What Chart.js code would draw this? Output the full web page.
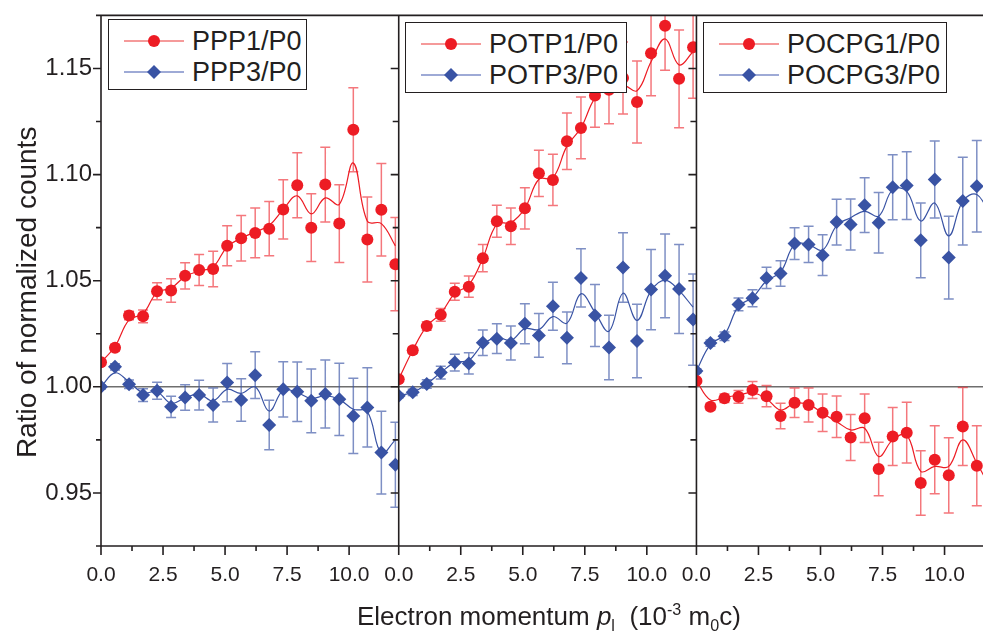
<!DOCTYPE html>
<html>
<head>
<meta charset="utf-8">
<title>Ratio of normalized counts</title>
<script src="https://cdn.jsdelivr.net/npm/chart.js@4.4.1/dist/chart.umd.min.js"></script>
<style>
  body { margin: 0; background: #fff; }
  #wrap { position: relative; width: 983px; height: 631px; font-family: "Liberation Sans", Arial, sans-serif; color: #231f20; }
  .legend { position: absolute; background: #fff; border: 1.5px solid #231f20; box-sizing: border-box; height: 71px; }
  .row { position: absolute; left: 0; height: 30px; display: flex; align-items: center; font-size: 27px; white-space: nowrap; }
  .row svg { margin: 0 8px 0 15px; }
  #xtitle { position: absolute; left: 357px; top: 603px; font-size: 26px; line-height: 26px; white-space: nowrap; }
  #xtitle sub, #xtitle sup { font-size: 62%; line-height: 0; }
</style>
</head>
<body>
<div id="wrap">
  <canvas id="chart" width="983" height="631"></canvas>

  <div class="legend" style="left:108px; top:19px; width:199px;">
    <div class="row" style="top:6px;"><svg width="60" height="16"><line x1="0" y1="8" x2="60" y2="8" stroke="#f59a9a" stroke-width="2"/><circle cx="30" cy="8" r="6" fill="#ed1c24"/></svg>PPP1/P0</div>
    <div class="row" style="top:37px;"><svg width="60" height="16"><line x1="0" y1="8" x2="60" y2="8" stroke="#9eaad6" stroke-width="2"/><polygon points="30,1 37,8 30,15 23,8" fill="#3953a4"/></svg>PPP3/P0</div>
  </div>
  <div class="legend" style="left:405px; top:22px; width:222px;">
    <div class="row" style="top:6px;"><svg width="60" height="16"><line x1="0" y1="8" x2="60" y2="8" stroke="#f59a9a" stroke-width="2"/><circle cx="30" cy="8" r="6" fill="#ed1c24"/></svg>POTP1/P0</div>
    <div class="row" style="top:37px;"><svg width="60" height="16"><line x1="0" y1="8" x2="60" y2="8" stroke="#9eaad6" stroke-width="2"/><polygon points="30,1 37,8 30,15 23,8" fill="#3953a4"/></svg>POTP3/P0</div>
  </div>
  <div class="legend" style="left:703px; top:22px; width:244px;">
    <div class="row" style="top:6px;"><svg width="60" height="16"><line x1="0" y1="8" x2="60" y2="8" stroke="#f59a9a" stroke-width="2"/><circle cx="30" cy="8" r="6" fill="#ed1c24"/></svg>POCPG1/P0</div>
    <div class="row" style="top:37px;"><svg width="60" height="16"><line x1="0" y1="8" x2="60" y2="8" stroke="#9eaad6" stroke-width="2"/><polygon points="30,1 37,8 30,15 23,8" fill="#3953a4"/></svg>POCPG3/P0</div>
  </div>

  <div id="xtitle">Electron momentum <i>p</i><sub>l</sub>&nbsp; (10<sup>-3</sup> m<sub>0</sub>c)</div>
</div>

<script>
// momentum bins, same for every panel (10^-3 m0c)
const xPos = [0, 0.565, 1.13, 1.695, 2.26, 2.825, 3.39, 3.955, 4.52, 5.085, 5.65,
              6.215, 6.78, 7.345, 7.91, 8.475, 9.04, 9.605, 10.17, 10.735, 11.3, 11.865];

// panel 1
const ppp1    = [1.0116, 1.0184, 1.0336, 1.0332, 1.0450, 1.0454, 1.0523, 1.0550, 1.0555, 1.0665, 1.0700,
                 1.0725, 1.0745, 1.0836, 1.0950, 1.0750, 1.0953, 1.0769, 1.1211, 1.0694, 1.0834, 1.0578];
const ppp1Err = [0.001, 0.0015, 0.002, 0.003, 0.004, 0.0055, 0.0062, 0.0073, 0.0084, 0.0094, 0.0107,
                 0.0117, 0.0128, 0.014, 0.0153, 0.016, 0.0176, 0.0183, 0.0198, 0.020, 0.0218, 0.022];
const ppp1Fit = [1.0116, 1.0190, 1.0315, 1.0345, 1.0445, 1.0465, 1.0520, 1.0545, 1.0565, 1.0660, 1.0700,
                 1.0730, 1.0760, 1.0836, 1.0900, 1.0815, 1.0890, 1.0860, 1.1054, 1.0780, 1.0769, 1.0664];
const ppp3    = [1.0000, 1.0094, 1.0012, 0.9961, 0.9981, 0.9906, 0.9950, 0.9961, 0.9914, 1.0020, 0.9938,
                 1.0055, 0.9820, 0.9988, 0.9977, 0.9934, 0.9966, 0.9941, 0.9863, 0.9903, 0.9690, 0.9633];
const ppp3Err = [0.001, 0.0015, 0.002, 0.003, 0.004, 0.005, 0.006, 0.007, 0.008, 0.009, 0.010,
                 0.011, 0.0117, 0.013, 0.014, 0.015, 0.016, 0.017, 0.0177, 0.0187, 0.0195, 0.020];
const ppp3Fit = [1.0000, 1.0066, 1.0023, 0.9972, 0.9977, 0.9922, 0.9948, 0.9966, 0.9934, 0.9988, 0.9969,
                 1.0000, 0.9886, 0.9984, 0.9973, 0.9945, 0.9958, 0.9941, 0.9894, 0.9883, 0.9688, 0.9750];

// panel 2
const potp1    = [1.0036, 1.0172, 1.0286, 1.0339, 1.0448, 1.0472, 1.0606, 1.0780, 1.0756, 1.0841, 1.1006,
                  1.0975, 1.1157, 1.1220, 1.1373, 1.1400, 1.1455, 1.1342, 1.1572, 1.1701, 1.1451, 1.1600];
const potp1Err = [0.001, 0.0015, 0.002, 0.003, 0.004, 0.005, 0.0064, 0.0075, 0.0086, 0.0097, 0.0109,
                  0.0121, 0.0133, 0.0146, 0.015, 0.016, 0.017, 0.0193, 0.020, 0.021, 0.023, 0.024];
const potp1Fit = [1.0036, 1.0172, 1.0286, 1.0345, 1.0440, 1.0480, 1.0606, 1.0767, 1.0774, 1.0841, 1.0978,
                  1.0985, 1.1134, 1.1220, 1.1360, 1.1410, 1.1423, 1.1395, 1.1532, 1.1639, 1.1517, 1.1579];
const potp3    = [0.9958, 0.9974, 1.0013, 1.0067, 1.0114, 1.0110, 1.0208, 1.0227, 1.0206, 1.0297, 1.0242,
                  1.0380, 1.0231, 1.0513, 1.0336, 1.0185, 1.0562, 1.0216, 1.0458, 1.0523, 1.0461, 1.0317];
const potp3Err = [0.001, 0.0015, 0.002, 0.003, 0.004, 0.005, 0.006, 0.007, 0.008, 0.0094, 0.0103,
                  0.0113, 0.0122, 0.0137, 0.0146, 0.0152, 0.0164, 0.0173, 0.0189, 0.0197, 0.021, 0.0215];
const potp3Fit = [0.9958, 0.9974, 1.0013, 1.0067, 1.0114, 1.0125, 1.0200, 1.0233, 1.0219, 1.0274, 1.0270,
                  1.0331, 1.0300, 1.0438, 1.0351, 1.0262, 1.0441, 1.0313, 1.0453, 1.0503, 1.0453, 1.0375];

// panel 3 (last bin falls outside the plotted range)
const pocpg1    = [1.0028, 0.9906, 0.9946, 0.9953, 0.9985, 0.9956, 0.9863, 0.9925, 0.9914, 0.9878, 0.9859,
                   0.9761, 0.9852, 0.9613, 0.9766, 0.9784, 0.9547, 0.9656, 0.9583, 0.9813, 0.9628];
const pocpg1Err = [0.001, 0.0015, 0.002, 0.003, 0.004, 0.005, 0.006, 0.007, 0.008, 0.0088, 0.0098,
                   0.0108, 0.0114, 0.0126, 0.0137, 0.0143, 0.0152, 0.016, 0.0177, 0.0184, 0.0188];
const pocpg1Fit = [1.0028, 0.9938, 0.9950, 0.9961, 0.9972, 0.9944, 0.9891, 0.9922, 0.9917, 0.9875, 0.9836,
                   0.9797, 0.9805, 0.9672, 0.9750, 0.9773, 0.9602, 0.9625, 0.9625, 0.9750, 0.9641, 0.9520];
const pocpg3    = [1.0075, 1.0206, 1.0238, 1.0388, 1.0417, 1.0513, 1.0534, 1.0675, 1.0671, 1.0620, 1.0776,
                   1.0765, 1.0856, 1.0773, 1.0940, 1.0948, 1.0690, 1.0977, 1.0609, 1.0875, 1.0945];
const pocpg3Err = [0.001, 0.0015, 0.002, 0.003, 0.004, 0.005, 0.006, 0.0075, 0.0085, 0.0096, 0.0108,
                   0.012, 0.0129, 0.0143, 0.0153, 0.016, 0.0176, 0.0181, 0.0195, 0.0207, 0.0215];
const pocpg3Fit = [1.0075, 1.0200, 1.0245, 1.0380, 1.0420, 1.0500, 1.0540, 1.0670, 1.0670, 1.0644, 1.0759,
                   1.0797, 1.0827, 1.0804, 1.0929, 1.0921, 1.0781, 1.0866, 1.0711, 1.0875, 1.0906, 1.0800];

const RED = '#ed1c24';
const BLUE = '#3953a4';
const RED_ERR = 'rgba(237, 28, 36, 0.6)';
const BLUE_ERR = 'rgba(57, 83, 164, 0.65)';
const TXT = '#231f20';
const FONT = "'Liberation Sans', Arial, sans-serif";

function isMajor(v, step) {
    return Math.abs(v / step - Math.round(v / step)) < 1e-6;
}

function pts(vals) {
    return vals.map((y, i) => ({ x: xPos[i], y: y }));
}

function markers(axis, vals, errs, color, errColor, style, radius) {
    return {
        xAxisID: axis, data: pts(vals), errorBars: errs, errorColor: errColor,
        showLine: false, pointStyle: style, pointRadius: radius, pointHoverRadius: radius,
        pointBackgroundColor: color, pointBorderWidth: 0, order: 1
    };
}

function fitLine(axis, vals, color) {
    return {
        xAxisID: axis, data: pts(vals), showLine: true, borderColor: color, borderWidth: 1.2,
        pointRadius: 0, tension: 0.4, fill: false, order: 2
    };
}

function xAxis(max) {
    return {
        type: 'linear', position: 'bottom', stack: 'panels', stackWeight: max,
        min: 0, max: max,
        grid: { drawOnChartArea: false, drawTicks: true, tickLength: 10, tickColor: 'rgba(0,0,0,0)' },
        border: { display: false },
        ticks: {
            stepSize: 1.25, autoSkip: false, maxRotation: 0, padding: 7, color: TXT,
            font: { family: FONT, size: 21 },
            callback: v => isMajor(v, 2.5) ? v.toFixed(1) : ''
        },
        // fixed height, and no extra side padding so the panels fill the width
        afterFit: s => { s.height = 85; s.paddingLeft = 0; s.paddingRight = 0; }
    };
}

// Clip every dataset to its own panel and draw its error bars underneath
const panelClip = {
    id: 'panelClip',
    beforeDatasetDraw(chart, args) {
        const { ctx, chartArea } = chart;
        const xs = args.meta.xScale;
        const ys = args.meta.yScale;
        ctx.save();
        ctx.beginPath();
        ctx.rect(xs.left, chartArea.top, xs.right - xs.left, chartArea.bottom - chartArea.top);
        ctx.clip();
        const ds = chart.data.datasets[args.index];
        if (!ds.errorBars) return;
        ctx.strokeStyle = ds.errorColor;
        ctx.lineWidth = 1.5;
        ctx.beginPath();
        ds.data.forEach((p, i) => {
            const e = ds.errorBars[i];
            const x = xs.getPixelForValue(p.x);
            const y1 = ys.getPixelForValue(p.y - e);
            const y2 = ys.getPixelForValue(p.y + e);
            ctx.moveTo(x, y1); ctx.lineTo(x, y2);
            ctx.moveTo(x - 5, y1); ctx.lineTo(x + 5, y1);
            ctx.moveTo(x - 5, y2); ctx.lineTo(x + 5, y2);
        });
        ctx.stroke();
    },
    afterDatasetDraw(chart) {
        chart.ctx.restore();
    }
};

// Panel frames and tick marks (major long, minor short)
const frame = {
    id: 'frame',
    afterDatasetsDraw(chart) {
        const { ctx, chartArea: a, scales } = chart;
        const panels = ['x1', 'x2', 'x3'].map(id => scales[id]);
        ctx.save();
        ctx.strokeStyle = TXT;
        ctx.lineWidth = 1.6;
        ctx.beginPath();
        ctx.moveTo(a.left, a.top); ctx.lineTo(a.right, a.top);
        ctx.moveTo(a.left, a.bottom); ctx.lineTo(a.right, a.bottom);
        panels.forEach(s => { ctx.moveTo(s.left, a.top); ctx.lineTo(s.left, a.bottom); });

        scales.y.ticks.forEach(t => {
            const py = scales.y.getPixelForValue(t.value);
            const major = isMajor(t.value, 0.05);
            ctx.moveTo(a.left, py); ctx.lineTo(a.left - (major ? 8 : 5), py);
            panels.slice(1).forEach(s => { ctx.moveTo(s.left, py); ctx.lineTo(s.left - (major ? 8 : 6), py); });
        });

        panels.forEach(s => {
            s.ticks.forEach(t => {
                if (!isMajor(t.value, 1.25)) return;
                const px = s.getPixelForValue(t.value);
                ctx.moveTo(px, a.bottom); ctx.lineTo(px, a.bottom + (isMajor(t.value, 2.5) ? 9 : 5));
            });
        });
        ctx.stroke();
        ctx.restore();
    }
};

const ctx = document.getElementById('chart');
new Chart(ctx, {
    type: 'scatter',
    data: {
        datasets: [
            markers('x1', ppp1, ppp1Err, RED, RED_ERR, 'circle', 6),
            markers('x1', ppp3, ppp3Err, BLUE, BLUE_ERR, 'rectRot', 7),
            fitLine('x1', ppp1Fit, RED),
            fitLine('x1', ppp3Fit, BLUE),
            markers('x2', potp1, potp1Err, RED, RED_ERR, 'circle', 6),
            markers('x2', potp3, potp3Err, BLUE, BLUE_ERR, 'rectRot', 7),
            fitLine('x2', potp1Fit, RED),
            fitLine('x2', potp3Fit, BLUE),
            markers('x3', pocpg1, pocpg1Err, RED, RED_ERR, 'circle', 6),
            markers('x3', pocpg3, pocpg3Err, BLUE, BLUE_ERR, 'rectRot', 7),
            fitLine('x3', pocpg1Fit, RED),
            fitLine('x3', pocpg3Fit, BLUE)
        ]
    },
    options: {
        responsive: false,
        animation: false,
        devicePixelRatio: 1,
        layout: { autoPadding: false, padding: { top: 13, left: 0, right: 0, bottom: 0 } },
        plugins: { legend: { display: false }, tooltip: { enabled: false } },
        scales: {
            x1: xAxis(12),
            x2: xAxis(12),
            x3: xAxis(11.55),
            y: {
                type: 'linear', position: 'left', min: 0.925, max: 1.175,
                grid: {
                    drawOnChartArea: true, drawTicks: true, tickLength: 8, tickColor: 'rgba(0,0,0,0)',
                    color: c => Math.abs(c.tick.value - 1) < 1e-9 ? '#6e6e6e' : 'rgba(0,0,0,0)',
                    lineWidth: 1.6
                },
                border: { display: false },
                ticks: {
                    stepSize: 0.025, padding: 1, color: TXT, font: { family: FONT, size: 24 },
                    callback: v => isMajor(v, 0.05) ? v.toFixed(2) : ''
                },
                title: {
                    // trailing spaces nudge the centred title a little lower, as in the original
                    display: true, text: 'Ratio of normalized counts   ', color: TXT,
                    font: { family: FONT, size: 28 }, padding: { top: 11, bottom: 0 }
                },
                afterFit: s => { s.width = 101; }
            }
        }
    },
    plugins: [panelClip, frame]
});
</script>
</body>
</html>
